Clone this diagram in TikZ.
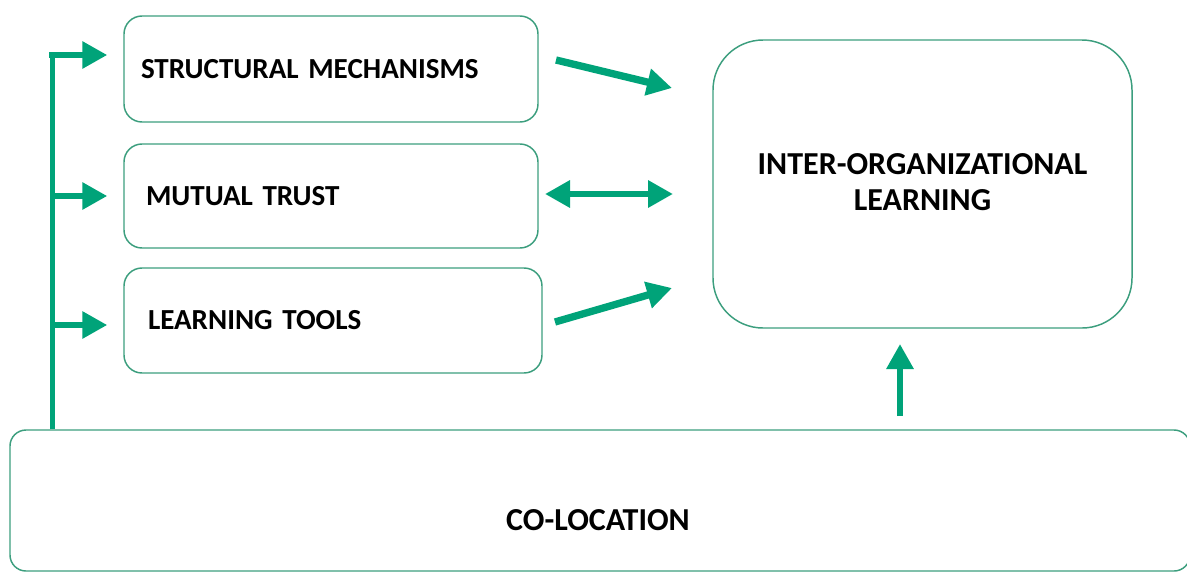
\documentclass[tikz,border=0pt]{standalone}
\usepackage{fontspec}
\setmainfont{Carlito}[WordSpace=0.7]
\usetikzlibrary{arrows.meta}
\definecolor{boxgreen}{RGB}{60,158,126}
\definecolor{arrgreen}{RGB}{0,163,121}
\tikzset{
  box/.style={draw=boxgreen, line width=1.1pt, rounded corners=13.5pt, font=\fontsize{21.8}{27}\selectfont\bfseries, align=left, anchor=center},
  bigfont/.style={font=\fontsize{24}{27}\selectfont\bfseries},
  arr/.style={draw=arrgreen, line width=4.5pt, -{Triangle[length=18.75pt,width=19.5pt]}},
  fatarr/.style={arr, line width=5.5pt},
  dbl/.style={draw=arrgreen, line width=5pt, {Triangle[length=18.75pt,width=19.5pt]}-{Triangle[length=18.75pt,width=19.5pt]}},
  trunkline/.style={draw=arrgreen, line width=3.75pt},
}
\begin{document}
\begin{tikzpicture}[x=0.75pt,y=-0.75pt]
\useasboundingbox (0,0) rectangle (1187,572);
\node[box, minimum width=310.5pt, minimum height=79.5pt, text width=285pt, inner xsep=12.75pt] (sm) at (331,69) {STRUCTURAL MECHANISMS};
\node[box, minimum width=310.5pt, minimum height=78pt, text width=277.5pt, inner xsep=16.5pt] (mt) at (331,196) {MUTUAL TRUST};
\node[box, minimum width=313.5pt, minimum height=78.75pt, text width=277.5pt, inner xsep=18pt] (lt) at (333,320.5) {\raisebox{-2pt}{LEARNING TOOLS}};
\node[box, bigfont, minimum width=314.25pt, minimum height=216pt, rounded corners=37.5pt, align=center] (iol) at (922.5,184) {\raisebox{3pt}{INTER-ORGANIZATIONAL}\\\raisebox{3pt}{LEARNING}};
\node[box, minimum width=885pt, minimum height=105.75pt, rounded corners=12pt,
  label={[bigfont, yshift=-15pt, xshift=-1.5pt]center:CO-LOCATION}] (colo) at (600,500.5) {};
% trunk
\coordinate (t1) at (52,55);
\coordinate (t2) at (52,196);
\coordinate (t3) at (52,325);
\draw[trunkline] (t1 |- colo.north) -- ([yshift=-1.9pt]t1);
\draw[arr, shorten >=12pt] ([xshift=-1.9pt]t1) -- (t1 -| sm.west);
\draw[arr, shorten >=12pt] (t2) -- (t2 -| mt.west);
\draw[arr, shorten >=12pt] (t3) -- (t3 -| lt.west);
% to learning
\coordinate (a1s) at (556,60);
\coordinate (a1e) at (672,88);
\draw[fatarr] (a1s) -- (a1e);
\coordinate (a2s) at (545,194);
\coordinate (a2e) at (673,194);
\draw[dbl] (a2s) -- (a2e);
\coordinate (a3s) at (555,322);
\coordinate (a3e) at (672,288);
\draw[fatarr] (a3s) -- (a3e);
\coordinate (up) at (900,416);
\draw[arr] (up) -- (up |- 344,344);
\end{tikzpicture}
\end{document}
